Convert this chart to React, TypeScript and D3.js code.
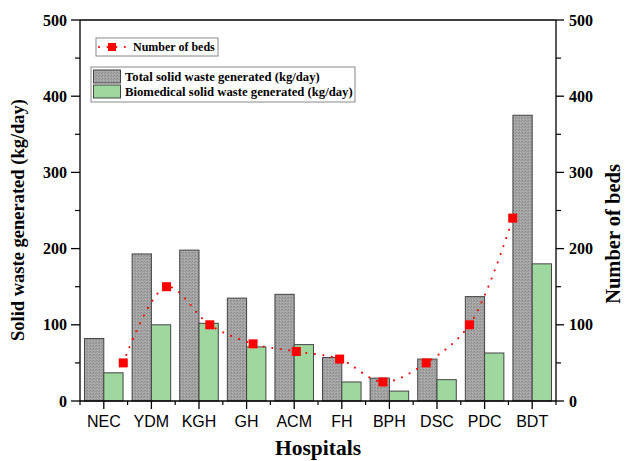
import React from 'react';
import * as d3 from 'd3';

// hospitals and values
const hospitals = ['NEC', 'YDM', 'KGH', 'GH', 'ACM', 'FH', 'BPH', 'DSC', 'PDC', 'BDT'];
const totalWaste = [82, 193, 198, 135, 140, 57, 30, 55, 137, 375];
const bioWaste = [37, 100, 102, 71, 74, 25, 13, 28, 63, 180];
const beds = [50, 150, 100, 75, 65, 55, 25, 50, 100, 240];
const yTicks = [0, 100, 200, 300, 400, 500];
const yMinor = [50, 150, 250, 350, 450];

const W = 627;
const H = 461;
const left = 80;
const right = 556;
const top = 20;
const bottom = 401;
const serif = '"Liberation Serif", "Times New Roman", serif';
const sans = '"Liberation Sans", Arial, sans-serif';

function App() {
  const x = d3.scaleBand().domain(hospitals).range([left, right]).paddingInner(0.19).paddingOuter(0.095);
  const y = d3.scaleLinear().domain([0, 500]).range([bottom, top]);
  // beds are drawn on their own linear x scale
  const xBeds = d3.scaleLinear().domain([0, 11]).range([left, right]);
  const bw = x.bandwidth() / 2;
  const step = x.step();

  const bedLine = d3.line<number>()
    .x((d, i) => xBeds(i + 1))
    .y(d => y(d))
    .curve(d3.curveCatmullRom.alpha(0.5));

  const boundaries = d3.range(hospitals.length + 1).map(i => left + i * step);

  return (
    <svg width={W} height={H} style={{ position: 'absolute', left: 0, top: 0, background: '#fff' }}>
      <defs>
        <pattern id="grayTex" width="3" height="3" patternUnits="userSpaceOnUse">
          <rect width="3" height="3" fill="#a4a4a4" />
          <rect x="0" y="0" width="1" height="1" fill="#8a8a8a" />
          <rect x="2" y="1" width="1" height="1" fill="#949494" />
          <rect x="1" y="2" width="1" height="1" fill="#b2b2b2" />
        </pattern>
      </defs>

      {/* bars */}
      {hospitals.map((h, i) => (
        <g key={h}>
          <rect x={x(h)!} y={y(totalWaste[i])} width={bw} height={bottom - y(totalWaste[i])}
            fill="url(#grayTex)" stroke="#444" strokeWidth={1} />
          <rect x={x(h)! + bw} y={y(bioWaste[i])} width={bw} height={bottom - y(bioWaste[i])}
            fill="#9fd89f" stroke="#444" strokeWidth={1} />
        </g>
      ))}

      {/* beds line */}
      <path d={bedLine(beds) || ''} fill="none" stroke="#ff0000" strokeWidth={2}
        strokeDasharray="0.1 8.5" strokeLinecap="round" />
      {beds.map((b, i) => (
        <rect key={i} x={xBeds(i + 1) - 4.5} y={y(b) - 4.5} width={9} height={9} fill="#ff0000" />
      ))}

      {/* frame */}
      <line x1={left} x2={right} y1={top} y2={top} stroke="#000" strokeWidth={1.3} />
      <line x1={left} x2={right} y1={bottom} y2={bottom} stroke="#000" strokeWidth={1.3} />
      <line x1={left} x2={left} y1={top} y2={bottom} stroke="#000" strokeWidth={1.3} />
      <line x1={right} x2={right} y1={top} y2={bottom} stroke="#000" strokeWidth={1.3} />

      {/* y ticks */}
      {yTicks.map(t => (
        <g key={t}>
          <line x1={left - 9} x2={left} y1={y(t)} y2={y(t)} stroke="#000" strokeWidth={1.3} />
          <line x1={right} x2={right + 8} y1={y(t)} y2={y(t)} stroke="#000" strokeWidth={1.3} />
          <text x={left - 13} y={y(t)} dy="0.35em" textAnchor="end" fontFamily={serif}
            fontWeight="bold" fontSize={16}>{t}</text>
          <text x={right + 13} y={y(t)} dy="0.35em" textAnchor="start" fontFamily={serif}
            fontWeight="bold" fontSize={16}>{t}</text>
        </g>
      ))}
      {yMinor.map(t => (
        <g key={t}>
          <line x1={left - 5} x2={left} y1={y(t)} y2={y(t)} stroke="#000" strokeWidth={1.2} />
          <line x1={right} x2={right + 5} y1={y(t)} y2={y(t)} stroke="#000" strokeWidth={1.2} />
        </g>
      ))}

      {/* x ticks */}
      {hospitals.map(h => {
        const cx = x(h)! + bw;
        return (
          <g key={h}>
            <line x1={cx} x2={cx} y1={bottom} y2={bottom + 8} stroke="#000" strokeWidth={1.3} />
            <text x={cx} y={427} textAnchor="middle" fontFamily={sans} fontSize={16}>{h}</text>
          </g>
        );
      })}
      {boundaries.map((bx, i) => (
        <line key={i} x1={bx} x2={bx} y1={bottom} y2={bottom + 4} stroke="#000" strokeWidth={1.2} />
      ))}

      {/* axis titles */}
      <text x={318} y={455} textAnchor="middle" fontFamily={serif}
        fontWeight="bold" fontSize={21.5}>Hospitals</text>
      <text transform={`translate(24, 220) rotate(-90)`} textAnchor="middle" fontFamily={serif}
        fontWeight="bold" fontSize={18.5}>Solid waste generated (kg/day)</text>
      <text transform={`translate(620, 234) rotate(-90)`} textAnchor="middle" fontFamily={serif}
        fontWeight="bold" fontSize={20.5}>Number of beds</text>

      {/* legend: beds */}
      <rect x={96} y={38} width={122} height={18} fill="#fff" stroke="#888" strokeWidth={1} />
      <line x1={99} x2={126} y1={47} y2={47} stroke="#ff0000" strokeWidth={2}
        strokeDasharray="0.1 8.5" strokeLinecap="round" />
      <rect x={108} y={43} width={8} height={8} fill="#ff0000" />
      <text x={133} y={51} fontFamily={serif} fontWeight="bold" fontSize={12}>Number of beds</text>

      {/* legend: bars */}
      <rect x={91} y={67} width={264} height={35} fill="#fff" stroke="#888" strokeWidth={1} />
      <rect x={93.5} y={70} width={27} height={13} fill="url(#grayTex)" stroke="#444" strokeWidth={1} />
      <rect x={93.5} y={85} width={27} height={13} fill="#9fd89f" stroke="#444" strokeWidth={1} />
      <text x={125} y={81} fontFamily={serif} fontWeight="bold" fontSize={12.7}>Total solid waste generated (kg/day)</text>
      <text x={125} y={96} fontFamily={serif} fontWeight="bold" fontSize={12.7}>Biomedical solid waste generated (kg/day)</text>
    </svg>
  );
}

export default App;
